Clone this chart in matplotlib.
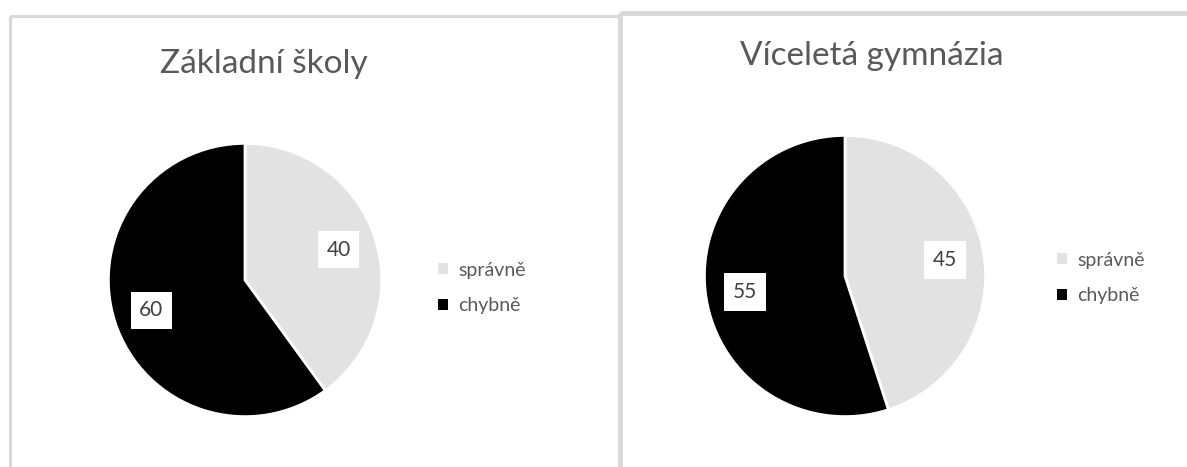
import matplotlib
matplotlib.use("Agg")
import matplotlib.pyplot as plt
from matplotlib.patches import Rectangle, Patch

W, H = 1187, 467
DPI = 100

categories = ["správně", "chybně"]
titles = ["Základní školy", "Víceletá gymnázia"]
zakladni_skoly = [40, 60]
vicileta_gymnazia = [45, 55]
series = [zakladni_skoly, vicileta_gymnazia]

colors = ["#e2e2e2", "#000000"]
text_gray = "#595959"
border_gray = "#d9d9d9"

plt.rcParams["font.family"] = ["Lato", "DejaVu Sans"]

fig = plt.figure(figsize=(W / DPI, H / DPI), dpi=DPI)
fig.patch.set_facecolor("white")


def px_rect(x0, y0, w, h):
    """Convert a top-left pixel box to figure fractions."""
    return [x0 / W, 1 - (y0 + h) / H, w / W, h / H]


# chart frames
frame_ax = fig.add_axes([0, 0, 1, 1])
frame_ax.set_xlim(0, W)
frame_ax.set_ylim(H, 0)
frame_ax.axis("off")
frame_ax.add_patch(Rectangle((9.5, 15.5), 609, 480, fill=False,
                             edgecolor=border_gray, linewidth=2.2))
frame_ax.add_patch(Rectangle((620, 12.5), 600, 480, fill=False,
                             edgecolor=border_gray, linewidth=3.5))

panels = [
    dict(cx=245, cy=280, r=138, title_x=264, title_y=64, leg_x=438, leg_y=288),
    dict(cx=845, cy=276, r=142, title_x=872, title_y=56, leg_x=1057, leg_y=278),
]

for p, vals, title in zip(panels, series, titles):
    ax = fig.add_axes(px_rect(p["cx"] - p["r"], p["cy"] - p["r"], 2 * p["r"], 2 * p["r"]))
    wedges, _, autotexts = ax.pie(
        vals, colors=colors, startangle=90, counterclock=False, radius=1,
        autopct=lambda pct: f"{pct:.0f}", pctdistance=0.72,
        wedgeprops=dict(edgecolor="white", linewidth=2),
        textprops=dict(fontsize=15, color="#404040"),
    )
    for t in autotexts:
        t.set_bbox(dict(boxstyle="square,pad=0.42", facecolor="white", edgecolor="none"))
    ax.set_xlim(-1.01, 1.01)
    ax.set_ylim(-1.01, 1.01)
    ax.set_aspect("equal")

    fig.text(p["title_x"] / W, 1 - p["title_y"] / H, title, ha="center", va="center",
             fontsize=24, color=text_gray)

    handles = [Patch(facecolor=c, edgecolor="none") for c in colors]
    fig.legend(handles, categories, loc="center left",
               bbox_to_anchor=(p["leg_x"] / W, 1 - p["leg_y"] / H),
               frameon=False, fontsize=14, labelcolor=text_gray,
               handlelength=0.5, handleheight=0.5, handletextpad=0.55,
               labelspacing=0.95, borderpad=0, borderaxespad=0)

fig.savefig("out.png", dpi=DPI)
